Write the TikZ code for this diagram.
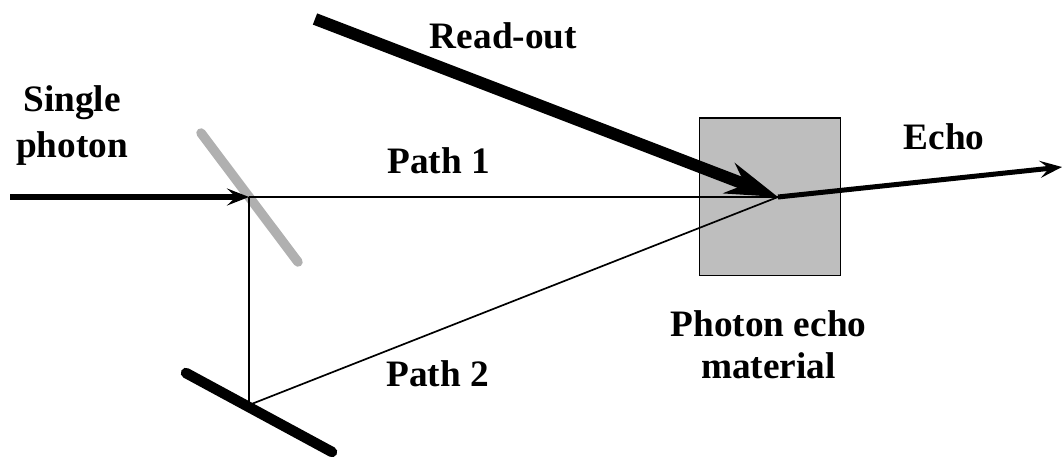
\documentclass[tikz,border=0pt]{standalone}
\usepackage{fontspec}
\setmainfont{Liberation Serif}
\usetikzlibrary{arrows.meta}
\definecolor{boxgrey}{HTML}{BEBEBE}
\definecolor{mirrorgrey}{HTML}{B0B0B0}
\tikzset{
 lbl/.style={font=\fontsize{37.3}{42}\selectfont\bfseries,align=center,inner sep=0pt,text=black},
 lblwide/.style={font=\fontsize{37.3}{46}\selectfont\bfseries,align=center,inner sep=0pt,text=black},
 ray/.style={line width=1.7pt,black},
 smallarr/.style={line width=5pt,black,-{Stealth[length=22pt,width=17pt,inset=9pt]}},
 bigarr/.style={line width=12pt,black,-{Stealth[length=52pt,width=32pt,inset=17pt]}}
}
\begin{document}
\begin{tikzpicture}[x=1pt,y=-1pt,line cap=butt]
\useasboundingbox (0,0) rectangle (1062,457);
\coordinate (c) at (778,197);
\coordinate (bs) at (249,197);
\coordinate (m) at (249,405);
\coordinate (in) at (10,197);
\coordinate (ro) at (315,19);
\coordinate (e) at (1062,167);
\node[draw=black,line width=1.7pt,fill=boxgrey,minimum width=141,minimum height=157,inner sep=0,anchor=north west] (box) at (698.5,117.5) {};
\draw[line width=9.5pt,mirrorgrey,line cap=round] (201,133) -- (298,262);
\draw[ray] (bs) -- (c);
\draw[ray] (bs) -- (m) -- (c);
\draw[line width=10.5pt,black,line cap=round] (186,373) -- (332,452);
\draw[smallarr] (in) -- (bs);
\draw[bigarr] (ro) -- (c);
\draw[smallarr] (c) -- (e);
\node[lbl,anchor=base] (t1) at (503.5,49) {Read-out};
\node[lblwide] (t2) at (72,126) {Single\\photon};
\node[lbl,anchor=base] (t3) at (438.5,174) {Path 1};
\node[lbl,anchor=base] (t4) at (437.5,386) {Path 2};
\node[lbl,anchor=base] (t5) at (944,150) {Echo};
\node[lbl] (t6) at (768.5,345) {Photon echo\\material};
\end{tikzpicture}
\end{document}
